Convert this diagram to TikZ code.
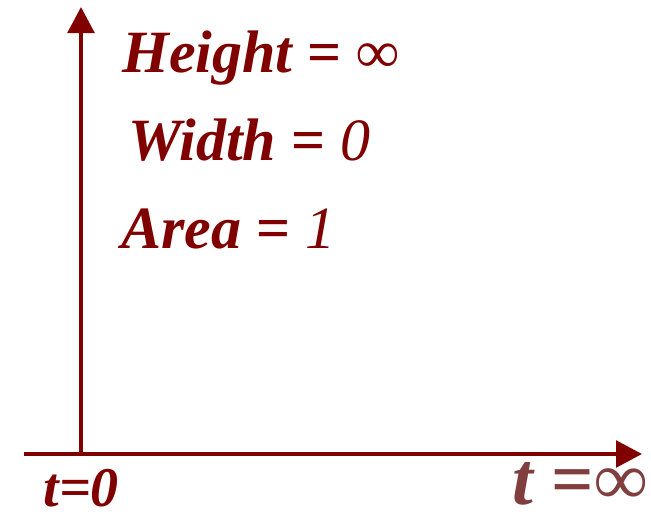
\documentclass[tikz,border=0pt]{standalone}
\usepackage{fontspec}
\setmainfont{Liberation Serif}
\usetikzlibrary{arrows.meta}

\definecolor{maroon}{RGB}{128,0,0}
\definecolor{rosybrown}{RGB}{128,62,62}

\tikzset{every picture/.style={line width=0.75pt}}
\tikzset{
  axis/.style={draw=maroon, line width=2.7pt, -{Triangle[width=20pt,length=19.5pt]}},
  label/.style={anchor=base west, inner sep=0pt, text depth=0pt, text=maroon, font=\fontsize{45}{50}\selectfont\bfseries\itshape}
}

\begin{document}
\begin{tikzpicture}[x=0.75pt,y=0.75pt,yscale=-1,xscale=1]
	\useasboundingbox (0,0) rectangle (651,515);
	
	%Axis end points
	\coordinate (origin) at (81,454);
	\coordinate (top) at (81,7);
	\coordinate (left) at (24,454);
	\coordinate (right) at (642,454);
	
	%Straight Lines [vertical axis]
	\draw [axis] (origin) -- (top) ;
	%Straight Lines [time axis]
	\draw [axis] (left) -- (right) ;
	
	% Text Node
	\node (height) [label] at (122,72) {Height \upshape= ∞};
	% Text Node
	\node (width) [label] at (128,160) {Width \upshape= \mdseries\itshape 0};
	% Text Node
	\node (area) [label] at (121,248) {Area \upshape= \mdseries\itshape 1};
	% Text Node
	\node (tzero) [label, font=\fontsize{42}{50}\selectfont\bfseries\itshape] at (43,506) {t=0};
	% Text Node
	\node (tinf) [label, text=rosybrown, font=\fontsize{56}{60}\selectfont\bfseries\itshape] at (512,504) {t \upshape=∞};
	
\end{tikzpicture}
\end{document}
